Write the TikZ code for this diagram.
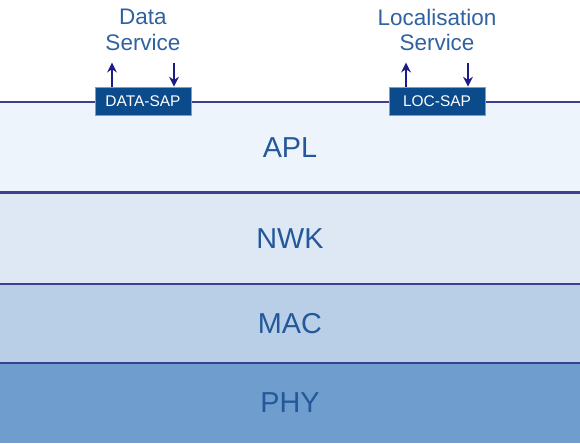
\documentclass[tikz,border=0pt]{standalone}
\usepackage{fontspec}
\setmainfont{Liberation Sans}
\usetikzlibrary{positioning,arrows.meta}
\definecolor{layertext}{HTML}{24589A}
\definecolor{saptext}{HTML}{2F62A0}
\definecolor{sapfill}{HTML}{0B4A8B}
\definecolor{navyline}{HTML}{3C3F8F}
\definecolor{arrowblue}{HTML}{1B1B8A}
\definecolor{aplfill}{HTML}{EEF4FB}
\definecolor{nwkfill}{HTML}{DDE8F4}
\definecolor{macfill}{HTML}{B9CFE7}
\definecolor{phyfill}{HTML}{6F9DCD}

\begin{document}
\begin{tikzpicture}[>={Stealth[length=7pt,width=7pt]},
  layer/.style={minimum width=14.5cm, inner sep=0pt, outer sep=0pt,
    text=layertext, font=\fontsize{20.5}{24}\selectfont},
  sap/.style={draw=gray!80, fill=sapfill, text=white, line width=0.6pt,
    minimum width=2.4cm, minimum height=0.7cm, inner sep=0pt,
    font=\fontsize{11}{13}\selectfont},
  service/.style={text=saptext, align=center,
    font=\fontsize{16}{18.4}\selectfont},
  sapflow/.style={->, arrowblue, line width=1pt}]
  \useasboundingbox (0,0) rectangle (14.5,11.075);
  % protocol stack
  \node[layer, fill=phyfill, minimum height=2cm, anchor=south west] (phy) at (0,0) {PHY};
  \node[layer, fill=macfill, minimum height=1.975cm, above=0pt of phy] (mac) {MAC};
  \node[layer, fill=nwkfill, minimum height=2.2875cm, above=0pt of mac] (nwk) {NWK};
  \node[layer, fill=aplfill, minimum height=2.2625cm, above=0pt of nwk] (apl) {APL};
  \draw[navyline, line width=0.8pt] (apl.north west) -- (apl.north east);
  \draw[navyline, line width=1.6pt] (nwk.north west) -- (nwk.north east);
  \draw[navyline, line width=1.1pt] (mac.north west) -- (mac.north east);
  \draw[navyline, line width=1.1pt] (phy.north west) -- (phy.north east);
  % service access points
  \node[sap] (datasap) at (3.575,8.55) {DATA-SAP};
  \node[sap] (locsap) at (10.925,8.55) {LOC-SAP};
  \node[service] (datasrv) at (3.575,10.325) {Data\\Service};
  \node[service] (locsrv) at (10.925,10.325) {Localisation\\Service};
  \foreach \s in {datasap,locsap}{
    \coordinate (\s-up) at ([xshift=-0.775cm,yshift=0.6cm]\s.north);
    \coordinate (\s-dn) at ([xshift=0.775cm,yshift=0.6cm]\s.north);
    \draw[sapflow] ([xshift=-0.775cm]\s.north) -- (\s-up);
    \draw[sapflow] (\s-dn) -- ([xshift=0.775cm]\s.north);
  }
\end{tikzpicture}
\end{document}
